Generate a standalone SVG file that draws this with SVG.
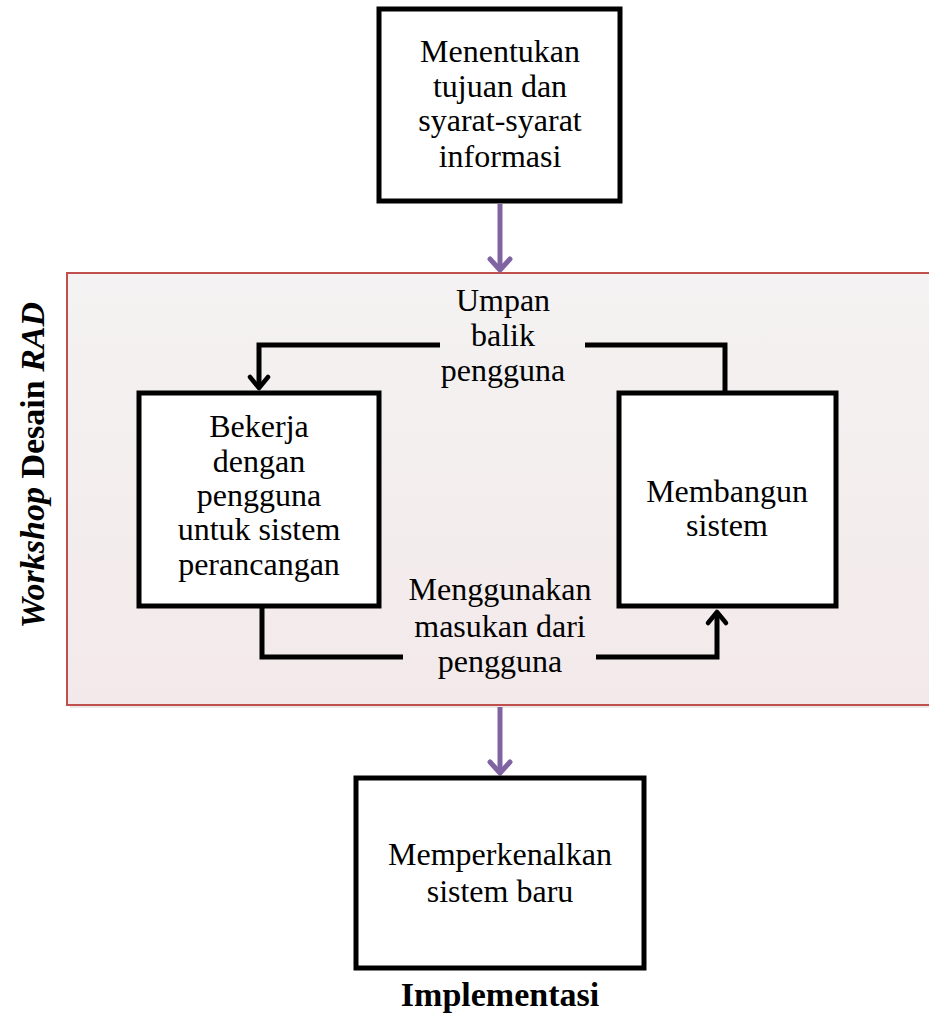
<svg xmlns="http://www.w3.org/2000/svg" width="929" height="1015" viewBox="0 0 929 1015">
  <defs>
    <linearGradient id="zoneFill" x1="0" y1="0" x2="0" y2="1">
      <stop offset="0" stop-color="#F4F2F2"/>
      <stop offset="1" stop-color="#F3E9EA"/>
    </linearGradient>
    <marker id="purpleHead" markerUnits="userSpaceOnUse" markerWidth="30" markerHeight="30" viewBox="-15 -15 30 30" refX="0" refY="0" orient="auto" overflow="visible">
      <path d="M -11 -10 L 0 0 L -11 10" fill="none" stroke="#8064A2" stroke-width="5" stroke-linecap="round" stroke-linejoin="round"/>
    </marker>
    <marker id="blackHead" markerUnits="userSpaceOnUse" markerWidth="30" markerHeight="30" viewBox="-15 -15 30 30" refX="0" refY="0" orient="auto" overflow="visible">
      <path d="M -11 -9 L 0 0 L -11 9" fill="none" stroke="#000" stroke-width="4.5" stroke-linecap="round" stroke-linejoin="round"/>
    </marker>
  </defs>
  <style>
    .box { fill: #FFFFFF; stroke: #000000; stroke-width: 5; }
    .lbl { font-family: "Liberation Serif", "Times New Roman", serif; font-size: 32px; fill: #000; text-anchor: middle; }
    .head { font-family: "Liberation Serif", "Times New Roman", serif; font-size: 34px; font-weight: bold; fill: #000; text-anchor: middle; }
    .purple { fill: none; stroke: #8064A2; stroke-width: 5; marker-end: url(#purpleHead); }
    .flow { fill: none; stroke: #000; stroke-width: 5; stroke-linejoin: miter; }
  </style>

  <rect width="929" height="1015" fill="#FFFFFF"/>

  <!-- workshop zone -->
  <g id="workshop-zone">
    <rect x="70" y="276" width="870" height="432" fill="#E2DADA" opacity="0.6"/>
    <rect x="67" y="273" width="870" height="432" fill="url(#zoneFill)" stroke="#C0504D" stroke-width="2"/>
    <text class="head" transform="translate(44 465) rotate(-90)"><tspan font-style="italic">Workshop</tspan> Desain <tspan font-style="italic">RAD</tspan></text>
  </g>

  <!-- connectors -->
  <g id="connectors">
    <line class="purple" x1="500" y1="204" x2="500" y2="270"/>
    <line class="purple" x1="500" y1="707" x2="500" y2="773"/>
    <path class="flow" d="M 725 391 L 725 345 L 585 345"/>
    <path class="flow" d="M 440 345 L 259 345 L 259 388" marker-end="url(#blackHead)"/>
    <path class="flow" d="M 262 607 L 262 657 L 403 657"/>
    <path class="flow" d="M 596 657 L 717 657 L 717 612" marker-end="url(#blackHead)"/>
  </g>

  <g id="node-tujuan">
    <rect class="box" x="379" y="9" width="241" height="192"/>
    <text class="lbl" x="500" y="62">Menentukan</text>
    <text class="lbl" x="500" y="97">tujuan dan</text>
    <text class="lbl" x="500" y="131">syarat-syarat</text>
    <text class="lbl" x="500" y="167">informasi</text>
  </g>

  <g id="label-umpan">
    <text class="lbl" x="503" y="311">Umpan</text>
    <text class="lbl" x="503" y="346">balik</text>
    <text class="lbl" x="503" y="381">pengguna</text>
  </g>

  <g id="node-bekerja">
    <rect class="box" x="139" y="393" width="240" height="213"/>
    <text class="lbl" x="259" y="437">Bekerja</text>
    <text class="lbl" x="259" y="472">dengan</text>
    <text class="lbl" x="259" y="506">pengguna</text>
    <text class="lbl" x="259" y="540">untuk sistem</text>
    <text class="lbl" x="259" y="575">perancangan</text>
  </g>

  <g id="node-membangun">
    <rect class="box" x="619" y="393" width="217" height="213"/>
    <text class="lbl" x="727" y="502">Membangun</text>
    <text class="lbl" x="727" y="536">sistem</text>
  </g>

  <g id="label-masukan">
    <text class="lbl" x="500" y="600">Menggunakan</text>
    <text class="lbl" x="500" y="637">masukan dari</text>
    <text class="lbl" x="500" y="672">pengguna</text>
  </g>

  <g id="node-implementasi">
    <rect class="box" x="356" y="778" width="288" height="190"/>
    <text class="lbl" x="500" y="865">Memperkenalkan</text>
    <text class="lbl" x="500" y="902">sistem baru</text>
    <text class="head" x="500" y="1006">Implementasi</text>
  </g>
</svg>
